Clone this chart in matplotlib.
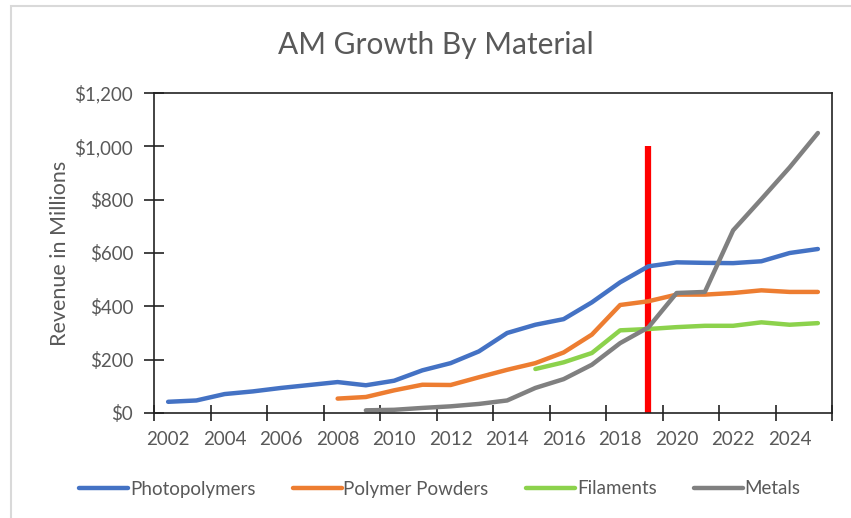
import numpy as np
import matplotlib.pyplot as plt
from matplotlib.patches import Rectangle
from matplotlib.ticker import FuncFormatter, MultipleLocator

plt.rcParams['font.family'] = ['Lato', 'DejaVu Sans']

years = np.arange(2002, 2026)

photopolymers = [42, 47, 71, 81, 94, 105, 116, 104, 121, 160, 187, 231,
                 300, 331, 352, 415, 490, 550, 565, 563, 562, 569, 600, 615]
powder_years = np.arange(2008, 2026)
polymer_powders = [54, 60, 85, 106, 105, 134, 162, 187, 227, 294, 405, 419,
                   444, 444, 450, 460, 454, 454]
filament_years = np.arange(2015, 2026)
filaments = [165, 190, 225, 310, 315, 322, 327, 327, 340, 331, 337]
metal_years = np.arange(2009, 2026)
metals = [10, 12, 19, 25, 34, 47, 94, 127, 181, 262, 321, 450, 454, 685,
          802, 921, 1050]

marker_year = 2019
marker_top = 1000

fig = plt.figure(figsize=(8.51, 5.18), dpi=100)
ax = fig.add_axes([154 / 851, 1 - 413 / 518, 678 / 851, 320 / 518])

lw = 3.2
ax.plot(years, photopolymers, color='#4472C4', lw=lw, label='Photopolymers',
        solid_capstyle='round')
ax.plot(powder_years, polymer_powders, color='#ED7D31', lw=lw,
        label='Polymer Powders', solid_capstyle='round')
ax.plot(filament_years, filaments, color='#8CD24C', lw=lw, label='Filaments',
        solid_capstyle='round')
ax.plot(metal_years, metals, color='#808080', lw=lw, label='Metals',
        solid_capstyle='round')

# vertical marker
ax.plot([marker_year, marker_year], [0, marker_top], color='#FF0000', lw=4.5,
        solid_capstyle='butt', zorder=1)

ax.set_xlim(2001.5, 2025.5)
ax.set_ylim(0, 1200)

ax.xaxis.set_major_locator(MultipleLocator(2, offset=1.5))
ax.xaxis.set_minor_locator(MultipleLocator(2))
ax.tick_params(axis='x', which='major', direction='inout', length=12,
               width=1.2, color='#222222', labelbottom=False)
ax.tick_params(axis='x', which='minor', length=0, labelsize=13.5,
               labelcolor='#595959', pad=13)
ax.xaxis.set_minor_formatter(FuncFormatter(lambda v, p: f'{int(round(v))}'
                                           if 2002 <= v <= 2024 else ''))

ax.yaxis.set_major_locator(MultipleLocator(200))
ax.yaxis.set_major_formatter(FuncFormatter(lambda v, p: f'${v:,.0f}'))
ax.tick_params(axis='y', direction='inout', length=14, width=1.2,
               color='#222222', labelsize=13.5, labelcolor='#595959', pad=8)

for s in ax.spines.values():
    s.set_color('#222222')
    s.set_linewidth(1.2)

ax.set_ylabel('Revenue in Millions', fontsize=15.5, color='#595959',
              labelpad=3)
fig.text(436 / 851, 1 - 45 / 518, 'AM Growth By Material', ha='center',
         va='center', fontsize=21.5, color='#595959')

fig.legend(loc='center', bbox_to_anchor=(440 / 851, 1 - 489 / 518), ncol=4,
           frameon=False, fontsize=13.5, handlelength=2.6, handletextpad=0.1,
           columnspacing=2.0, labelcolor='#595959')

# light chart-area border
fig.patches.append(Rectangle((11 / 851, -0.1), 1.2, 1 - 6 / 518 + 0.1,
                             transform=fig.transFigure, fill=False,
                             edgecolor='#d9d9d9', lw=1.5))

fig.savefig('out.png', dpi=100)
